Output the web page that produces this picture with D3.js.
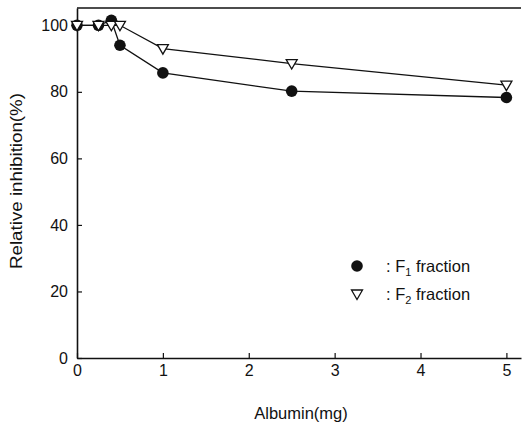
<!DOCTYPE html>
<html>
<head>
<meta charset="utf-8">
<script src="https://cdn.jsdelivr.net/npm/d3@7"></script>
<style>
  body { margin: 0; background: #fff; }
  text { font-family: "Liberation Sans", Arial, sans-serif; fill: #111; }
</style>
</head>
<body>
<svg id="chart"></svg>
<script>
// Data
const albumin = [0, 0.25, 0.4, 0.5, 1, 2.5, 5];
const f1Values = [100, 100, 101.5, 94, 85.7, 80.2, 78.3];
const f2Values = [100, 100, 100, 100, 93, 88.5, 82];
const xTicks = [0, 1, 2, 3, 4, 5];
const yTicks = [0, 20, 40, 60, 80, 100];

const width = 522, height = 425;
const margin = {top: 8, right: 1, bottom: 67, left: 77};
const innerW = width - margin.left - margin.right;
const innerH = height - margin.top - margin.bottom;

const svg = d3.select('#chart').attr('width', width).attr('height', height);
const chart = svg.append('g').attr('transform', `translate(${margin.left},${margin.top})`);

const xScale = d3.scaleLinear().domain([0, 5.17]).range([0, innerW]);
const yScale = d3.scaleLinear().domain([0, 105.2]).range([innerH, 0]);

// axes with inward ticks
const xAxis = d3.axisBottom(xScale).tickValues(xTicks).tickFormat(d3.format('d'))
  .tickSize(-5).tickSizeOuter(0).tickPadding(7);
const yAxis = d3.axisLeft(yScale).tickValues(yTicks).tickFormat(d3.format('d'))
  .tickSize(-5).tickSizeOuter(0).tickPadding(9);

const xAxisG = chart.append('g').attr('transform', `translate(0,${innerH})`).call(xAxis);
const yAxisG = chart.append('g').call(yAxis);
[xAxisG, yAxisG].forEach(g => {
  g.select('.domain').attr('stroke', '#111').attr('stroke-width', 1.6);
  g.selectAll('.tick line').attr('stroke', '#111').attr('stroke-width', 1.2);
  g.selectAll('.tick text').style('font-size', '16px').style('font-family', '"Liberation Sans", Arial, sans-serif').attr('fill', '#111');
});

// top frame line
chart.append('line')
  .attr('x1', 0).attr('x2', innerW).attr('y1', 0).attr('y2', 0)
  .attr('stroke', '#111').attr('stroke-width', 1.6);

const f1 = albumin.map((x, i) => ({x: x, y: f1Values[i]}));
const f2 = albumin.map((x, i) => ({x: x, y: f2Values[i]}));

const line = d3.line().x(d => xScale(d.x)).y(d => yScale(d.y));

chart.append('path').datum(f1).attr('d', line)
  .attr('fill', 'none').attr('stroke', '#111').attr('stroke-width', 1.3);
chart.append('path').datum(f2).attr('d', line)
  .attr('fill', 'none').attr('stroke', '#111').attr('stroke-width', 1.3);

const triPath = 'M-5.5,-4 L5.5,-4 L0,5.5 Z';

chart.selectAll('.f1').data(f1).join('circle')
  .attr('class', 'f1')
  .attr('cx', d => xScale(d.x)).attr('cy', d => yScale(d.y))
  .attr('r', 5.8).attr('fill', '#111');

chart.selectAll('.f2').data(f2).join('path')
  .attr('class', 'f2')
  .attr('transform', d => `translate(${xScale(d.x)},${yScale(d.y)})`)
  .attr('d', triPath)
  .attr('fill', '#fff').attr('stroke', '#111').attr('stroke-width', 1.3);

// legend
const legend = svg.append('g');
legend.append('circle').attr('cx', 357).attr('cy', 266).attr('r', 5.8).attr('fill', '#111');
legend.append('path').attr('transform', 'translate(357,294)').attr('d', triPath)
  .attr('fill', '#fff').attr('stroke', '#111').attr('stroke-width', 1.3);

const l1 = legend.append('text').attr('x', 386).attr('y', 272).style('font-size', '16.5px');
l1.append('tspan').text(': F');
l1.append('tspan').attr('dy', 4).style('font-size', '11px').text('1');
l1.append('tspan').attr('dy', -4).text(' fraction');

const l2 = legend.append('text').attr('x', 386).attr('y', 300).style('font-size', '16.5px');
l2.append('tspan').text(': F');
l2.append('tspan').attr('dy', 4).style('font-size', '11px').text('2');
l2.append('tspan').attr('dy', -4).text(' fraction');

// axis titles
svg.append('text')
  .attr('x', 301).attr('y', 419)
  .attr('text-anchor', 'middle')
  .style('font-size', '16.5px')
  .text('Albumin(mg)');

svg.append('text')
  .attr('transform', 'rotate(-90)')
  .attr('x', -181).attr('y', 22)
  .attr('text-anchor', 'middle')
  .attr('textLength', 176)
  .attr('lengthAdjust', 'spacingAndGlyphs')
  .style('font-size', '16px')
  .text('Relative inhibition(%)');
</script>
</body>
</html>
